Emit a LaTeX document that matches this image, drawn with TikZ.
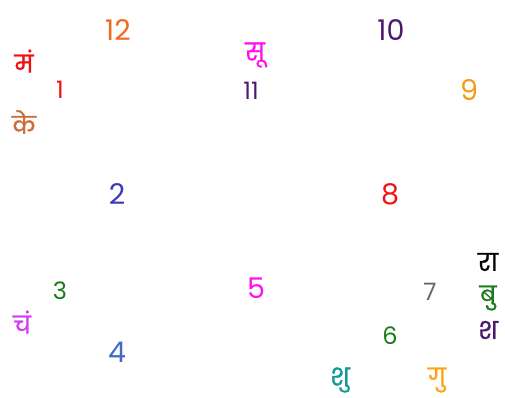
\documentclass[tikz,border=0pt]{standalone}
\usepackage{fontspec}
\setmainfont{Poppins}
\newfontfamily\devfont[Script=Devanagari, FakeBold=1.2]{Poppins}
\usepackage{xcolor}
\definecolor{hOrange}{HTML}{F26A1B}
\definecolor{hRed}{HTML}{F01010}
\definecolor{hBrown}{HTML}{CD6D3A}
\definecolor{hMagenta}{HTML}{FF10F0}
\definecolor{hIndigo}{HTML}{4B1A6E}
\definecolor{hAmber}{HTML}{F39C12}
\definecolor{hBlue}{HTML}{3A3AC0}
\definecolor{hGreen}{HTML}{1A7A1A}
\definecolor{hViolet}{HTML}{D03EF0}
\definecolor{hRoyal}{HTML}{4169C8}
\definecolor{hGray}{HTML}{666666}
\definecolor{hTeal}{HTML}{12999A}
\definecolor{hGold}{HTML}{FFA010}

\begin{document}
\begin{tikzpicture}[x=1pt, y=-1pt,
  big/.style={inner sep=0pt, font=\fontsize{28.5}{28.5}\selectfont},
  sml/.style={inner sep=0pt, font=\fontsize{24}{24}\selectfont},
  pl/.style={inner sep=0pt, font=\devfont\fontsize{24}{24}\selectfont}]
\useasboundingbox (0,0) rectangle (505,398);
% house numbers
\node[big, text=hOrange] (h12) at (118,30)  {12};
\node[sml, text=hRed]    (h1)  at (60,90)   {1};
\node[sml, text=hIndigo] (h11) at (251,91)  {11};
\node[big, text=hIndigo] (h10) at (391,30)  {10};
\node[big, text=hAmber]  (h9)  at (469,90)  {9};
\node[big, text=hBlue]   (h2)  at (117,194) {2};
\node[big, text=hRed]    (h8)  at (390,194) {8};
\node[sml, text=hGreen]  (h3)  at (60,291)  {3};
\node[big, text=hRoyal]  (h4)  at (117,352) {4};
\node[big, text=hMagenta] (h5) at (256,288) {5};
\node[sml, text=hGray]   (h7)  at (430,292) {7};
\node[sml, text=hGreen]  (h6)  at (390,336) {6};
% planets
\node[pl, text=hRed]     (pMa) at (24,61)   {मं};
\node[pl, text=hBrown]   (pKe) at (24,122)  {के};
\node[pl, text=hMagenta] (pSu) at (255,55)  {सू};
\node[pl, text=hViolet]  (pCh) at (22,322)  {चं};
\node[pl, text=black]    (pRa) at (488,262) {रा};
\node[pl, text=hGreen]   (pBu) at (488,298) {बु};
\node[pl, text=hIndigo]  (pSh) at (488,330) {श};
\node[pl, text=hTeal]    (pSk) at (340,380) {शु};
\node[pl, text=hGold]    (pGu) at (437,380) {गु};
\end{tikzpicture}
\end{document}
